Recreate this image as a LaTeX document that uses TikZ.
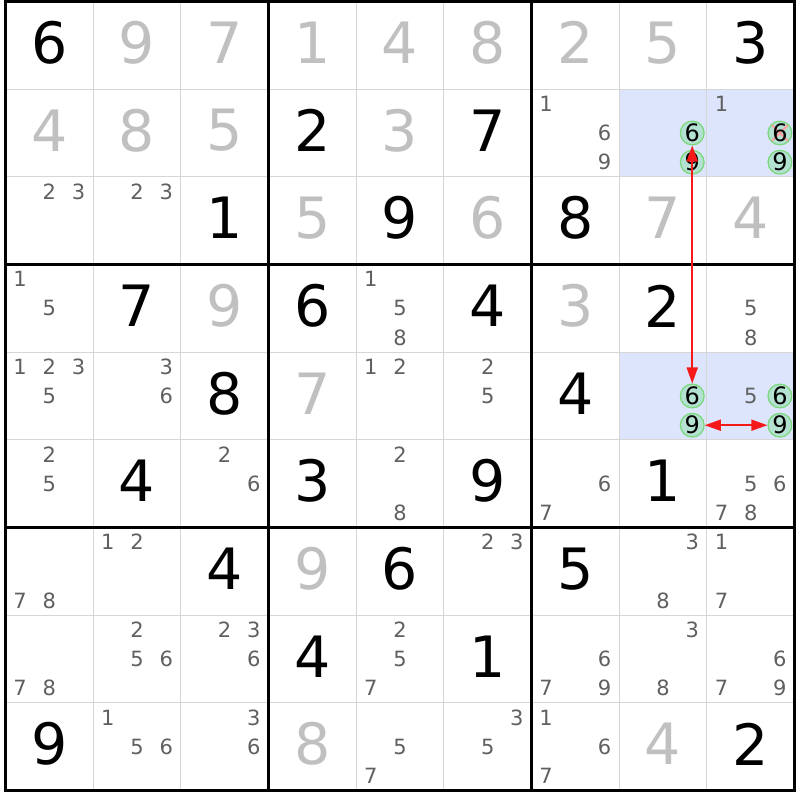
\documentclass[tikz,border=0pt]{standalone}
\usepackage{fontspec}
\setmainfont{DejaVu Sans}
\usetikzlibrary{arrows.meta}

\definecolor{solvedgray}{RGB}{192,192,192}
\definecolor{candgray}{RGB}{96,96,96}
\definecolor{gridgray}{RGB}{214,214,214}
\definecolor{cellblue}{RGB}{220,229,252}
\definecolor{ringgreen}{RGB}{125,216,125}
\definecolor{ringfill}{RGB}{180,226,210}
\definecolor{linkred}{RGB}{245,25,25}

\tikzset{every picture/.style={line width=1pt}}
\tikzset{
  given/.style={inner sep=0pt, font=\fontsize{57}{57}\selectfont},
  solved/.style={given, text=solvedgray},
  cand/.style={inner sep=0pt, text=candgray, font=\fontsize{21}{21}\selectfont},
  ring/.style={circle, draw=ringgreen, fill=ringfill, line width=1.3pt, minimum size=23pt, inner sep=0pt, text=black, font=\fontsize{24}{24}\selectfont},
  struck/.style={ring, path picture={\draw[linkred!40, line width=2pt] (path picture bounding box.south west) -- (path picture bounding box.north east) (path picture bounding box.north west) -- (path picture bounding box.south east);}},
  link/.style={draw=linkred, line width=1.7pt, {Triangle[length=16pt,width=11pt]}-{Triangle[length=16pt,width=11pt]}},
  cellline/.style={draw=gridgray, line width=1.2pt},
  boxline/.style={draw=black, line width=3.2pt}
}

\begin{document}
\begin{tikzpicture}[x=1pt,y=1pt,yscale=-1]
\useasboundingbox (0,0) rectangle (800,800);
\fill[white] (0,0) rectangle (800,800);

%Shape: highlighted cells
\foreach \r/\c in {2/8,2/9,5/8,5/9}
  \fill[cellblue] ({5.5+(\c-1)*87.67},{1.5+(\r-1)*87.67}) rectangle ++(87.67,87.67);

%Straight Lines: cell lines
\foreach \i in {1,2,4,5,7,8} {
  \draw[cellline] ({5.5+\i*87.67},1.5) -- ({5.5+\i*87.67},790.5);
  \draw[cellline] (5.5,{1.5+\i*87.67}) -- (794.5,{1.5+\i*87.67});
}
%Straight Lines: box lines
\foreach \i in {3,6} {
  \draw[boxline] ({5.5+\i*87.67},1.5) -- ({5.5+\i*87.67},790.5);
  \draw[boxline] (5.5,{1.5+\i*87.67}) -- (794.5,{1.5+\i*87.67});
}
\draw[boxline] (5.5,1.5) rectangle (794.5,790.5);

% Text Node: givens
\foreach \r/\c/\d in {1/1/6,1/9/3,2/4/2,2/6/7,3/3/1,3/5/9,3/7/8,4/2/7,4/4/6,4/6/4,4/8/2,5/3/8,5/7/4,6/2/4,6/4/3,6/6/9,6/8/1,7/3/4,7/5/6,7/7/5,8/4/4,8/6/1,9/1/9,9/9/2}
  \node[given] (g\r\c) at ({5.5+(\c-0.5)*87.67},{1.5+(\r-0.5)*87.67-2.5}) {\d};
% Text Node: solved
\foreach \r/\c/\d in {1/2/9,1/3/7,1/4/1,1/5/4,1/6/8,1/7/2,1/8/5,2/1/4,2/2/8,2/3/5,2/5/3,3/4/5,3/6/6,3/8/7,3/9/4,4/3/9,4/7/3,5/4/7,7/4/9,9/4/8,9/8/4}
  \node[solved] (g\r\c) at ({5.5+(\c-0.5)*87.67},{1.5+(\r-0.5)*87.67-2.5}) {\d};

% Text Node: candidates
\foreach \r/\c/\l in {2/7/{1,6,9},2/9/{1},3/1/{2,3},3/2/{2,3},4/1/{1,5},4/5/{1,5,8},4/9/{5,8},
    5/1/{1,2,3,5},5/2/{3,6},5/5/{1,2},5/6/{2,5},5/9/{5},6/1/{2,5},6/3/{2,6},6/5/{2,8},6/7/{6,7},6/9/{5,6,7,8},
    7/1/{7,8},7/2/{1,2},7/6/{2,3},7/8/{3,8},7/9/{1,7},8/1/{7,8},8/2/{2,5,6},8/3/{2,3,6},8/5/{2,5,7},8/7/{6,7,9},8/8/{3,8},8/9/{6,7,9},
    9/2/{1,5,6},9/3/{3,6},9/5/{5,7},9/6/{3,5},9/7/{1,6,7}}
  \foreach \d in \l
    \node[cand] (k\r\c\d) at ({5.5+(\c-1)*87.67+(mod(\d-1,3)+0.5)*29.22},{1.5+(\r-1)*87.67+(floor((\d-1)/3)+0.5)*29.22}) {\d};

%Shape: Circle rings
\node[ring] (r28n6) at (692.24,133.0) {6};
\node[ring] (r28n9) at (692.24,162.2) {9};
\node[struck] (r29n6) at (779.9,133.0) {6};
\node[ring] (r29n9) at (779.9,162.2) {9};
\node[ring] (r58n6) at (692.24,396.0) {6};
\node[ring] (r58n9) at (692.24,425.2) {9};
\node[ring] (r59n6) at (779.9,396.0) {6};
\node[ring] (r59n9) at (779.9,425.2) {9};

%Straight Lines: links
\draw[link] (r28n6) -- (r58n6);
\draw[link] (r58n9) -- (r59n9);

\end{tikzpicture}
\end{document}
